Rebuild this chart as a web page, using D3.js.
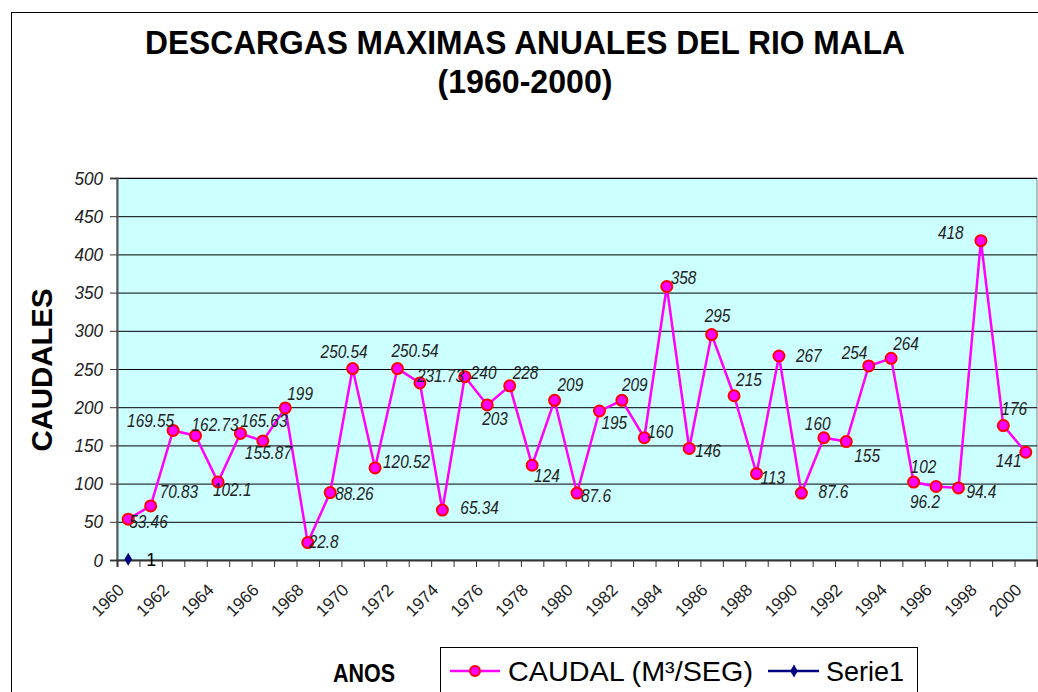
<!DOCTYPE html>
<html>
<head>
<meta charset="utf-8">
<script src="https://cdn.jsdelivr.net/npm/d3@7"></script>
<style>
  body { margin: 0; background: #fff; }
  svg { display: block; font-family: Arial, "Liberation Sans", sans-serif; }
</style>
</head>
<body>
<div id="chart"></div>
<script>
// categories (one per year)
var years = [1960, 1961, 1962, 1963, 1964, 1965, 1966, 1967, 1968, 1969,
             1970, 1971, 1972, 1973, 1974, 1975, 1976, 1977, 1978, 1979,
             1980, 1981, 1982, 1983, 1984, 1985, 1986, 1987, 1988, 1989,
             1990, 1991, 1992, 1993, 1994, 1995, 1996, 1997, 1998, 1999, 2000];

// CAUDAL (M3/SEG)
var caudal = [53.46, 70.83, 169.55, 162.73, 102.1, 165.63, 155.87, 199, 22.8, 88.26,
              250.54, 120.52, 250.54, 231.73, 65.34, 240, 203, 228, 124, 209,
              87.6, 195, 209, 160, 358, 146, 295, 215, 113, 267,
              87.6, 160, 155, 254, 264, 102, 96.2, 94.4, 418, 176, 141];

// Serie1 : a single point on the first year
var serie1 = [1];

var yTicks = [0, 50, 100, 150, 200, 250, 300, 350, 400, 450, 500];
var xTickLabels = ["1960", "1962", "1964", "1966", "1968", "1970", "1972", "1974",
                   "1976", "1978", "1980", "1982", "1984", "1986", "1988", "1990",
                   "1992", "1994", "1996", "1998", "2000"];

// data label placement (dx, dy from the marker), as the labels were dragged by hand
var labelOffsets = [[1, 3], [9, -14], [-46, -10], [-4, -11], [-5, 8], [0, -13], [-18, 12],
                    [2, -14], [1, -1], [5, 1], [-32, -17], [8, -6], [-6, -18], [-3, -7],
                    [18, -2], [6, -4], [-5, 14], [3, -13], [2, 10], [3, -16], [4, 3],
                    [2, 12], [0, -16], [3, -6], [4, -9], [6, 2], [-7, -19], [2, -16],
                    [4, 4], [17, 0], [17, -1], [-19, -14], [8, 14], [-27, -13], [2, -15],
                    [-3, -15], [-26, 15], [8, 4], [-43, -8], [-2, -17], [-30, 8]];

var width = 1038, height = 692;
var plot = {left: 117, right: 1037, top: 178, bottom: 560};
var condense = 0.88;

var svg = d3.select("#chart").append("svg")
    .attr("width", width)
    .attr("height", height);

// chart area border
svg.append("rect")
    .attr("x", 11.5).attr("y", 12.5)
    .attr("width", 1100).attr("height", 800)
    .attr("fill", "#fff")
    .attr("stroke", "#000");

var x = d3.scaleBand()
    .domain(years)
    .range([plot.left, plot.right])
    .padding(0);
var xIdx = d3.scaleLinear()
    .domain([0, years.length])
    .range([plot.left, plot.right]);
var y = d3.scaleLinear()
    .domain([0, 500])
    .range([plot.bottom, plot.top]);
var cx = function(yr) { return x(yr) + x.bandwidth() / 2; };

// plot background
svg.append("rect")
    .attr("x", plot.left).attr("y", plot.top)
    .attr("width", plot.right - plot.left)
    .attr("height", plot.bottom - plot.top)
    .attr("fill", "#ccffff")
    .attr("stroke", "#808080");

// gridlines
svg.append("g")
    .attr("transform", "translate(" + plot.left + ",0)")
    .call(d3.axisLeft(y).tickValues(yTicks.slice(1)).tickSize(-(plot.right - plot.left)).tickFormat(""))
    .call(function(g) {
      g.select(".domain").remove();
      g.selectAll("line").attr("stroke", "#000").attr("stroke-width", 1);
    });

// y axis
var yAxis = svg.append("g")
    .attr("transform", "translate(" + plot.left + ",0)")
    .call(d3.axisLeft(y).tickValues(yTicks).tickSize(7).tickPadding(14));
yAxis.attr("font-size", null).attr("font-family", null);
yAxis.select(".domain").attr("stroke", "#555").attr("stroke-width", 2);
yAxis.selectAll(".tick line").attr("stroke", "#333");
yAxis.selectAll(".tick text")
    .style("font-size", "19px")
    .style("font-style", "italic")
    .attr("fill", "#222")
    .attr("transform", "scale(0.9,1)")
    .attr("x", -14 / 0.9);

// x axis ticks on band edges
var xAxis = svg.append("g")
    .attr("transform", "translate(0," + plot.bottom + ")")
    .call(d3.axisBottom(xIdx).tickValues(d3.range(0, years.length + 1)).tickSize(7).tickFormat(""));
xAxis.select(".domain").attr("stroke", "#333").attr("stroke-width", 2);
xAxis.selectAll(".tick line").attr("stroke", "#333");

// x tick labels, every second year, rotated
svg.append("g").selectAll("text")
    .data(xTickLabels)
    .enter().append("text")
    .attr("transform", function(d) {
      return "translate(" + (cx(+d) - 3) + "," + (plot.bottom + 31) + ") rotate(-45)";
    })
    .attr("text-anchor", "end")
    .attr("font-size", 17)
    .attr("fill", "#222")
    .text(function(d) { return d; });

// CAUDAL line
var line = d3.line()
    .x(function(d, i) { return cx(years[i]); })
    .y(function(d) { return y(d); });

svg.append("path")
    .datum(caudal)
    .attr("fill", "none")
    .attr("stroke", "#ff00ff")
    .attr("stroke-width", 2.5)
    .attr("d", line);

svg.append("g").selectAll("circle")
    .data(caudal)
    .enter().append("circle")
    .attr("cx", function(d, i) { return cx(years[i]); })
    .attr("cy", function(d) { return y(d); })
    .attr("r", 5.5)
    .attr("fill", "#ff00ff")
    .attr("stroke", "#ff0000")
    .attr("stroke-width", 2);

// data labels
svg.append("g").selectAll("text")
    .data(caudal)
    .enter().append("text")
    .attr("transform", function(d, i) {
      var o = labelOffsets[i];
      return "translate(" + (cx(years[i]) + o[0]) + "," + (y(d) + o[1]) + ") scale(" + condense + ",1)";
    })
    .attr("dy", "0.36em")
    .attr("font-size", 17.5)
    .attr("font-style", "italic")
    .attr("fill", "#222")
    .text(function(d) { return d; });

// Serie1
var diamond = d3.symbol().type(d3.symbolDiamond).size(50);
svg.append("g").selectAll("path")
    .data(serie1)
    .enter().append("path")
    .attr("d", diamond)
    .attr("transform", function(d, i) {
      return "translate(" + cx(years[i]) + "," + y(d) + ")";
    })
    .attr("fill", "#000080");
svg.append("g").selectAll("text")
    .data(serie1)
    .enter().append("text")
    .attr("transform", function(d, i) {
      return "translate(" + (cx(years[i]) + 18) + "," + y(d) + ")";
    })
    .attr("dy", "0.36em")
    .attr("font-size", 18)
    .attr("fill", "#000")
    .text(function(d) { return d; });

// titles
var title = svg.append("g")
    .attr("font-weight", "bold")
    .attr("text-anchor", "middle")
    .attr("fill", "#000");
title.append("text")
    .attr("x", 525).attr("y", 54)
    .attr("font-size", 33)
    .attr("textLength", 760)
    .attr("lengthAdjust", "spacingAndGlyphs")
    .text("DESCARGAS MAXIMAS ANUALES DEL RIO MALA");
title.append("text")
    .attr("x", 525).attr("y", 93)
    .attr("font-size", 33)
    .attr("textLength", 175)
    .attr("lengthAdjust", "spacingAndGlyphs")
    .text("(1960-2000)");

svg.append("text")
    .attr("transform", "translate(52,370) rotate(-90)")
    .attr("text-anchor", "middle")
    .attr("font-weight", "bold")
    .attr("font-size", 29)
    .attr("textLength", 163)
    .attr("lengthAdjust", "spacingAndGlyphs")
    .text("CAUDALES");

svg.append("text")
    .attr("x", 364).attr("y", 682)
    .attr("text-anchor", "middle")
    .attr("font-weight", "bold")
    .attr("font-size", 25)
    .attr("textLength", 62)
    .attr("lengthAdjust", "spacingAndGlyphs")
    .text("ANOS");

// legend
var legend = svg.append("g").attr("transform", "translate(440,647)");
legend.append("rect")
    .attr("x", 0.5).attr("y", 0.5)
    .attr("width", 477).attr("height", 80)
    .attr("fill", "#fff")
    .attr("stroke", "#000");
var ly = 24;
legend.append("line")
    .attr("x1", 10).attr("x2", 60).attr("y1", ly).attr("y2", ly)
    .attr("stroke", "#ff00ff").attr("stroke-width", 2.5);
legend.append("circle")
    .attr("cx", 35).attr("cy", ly).attr("r", 5)
    .attr("fill", "#ff00ff").attr("stroke", "#ff0000").attr("stroke-width", 2);
legend.append("text")
    .attr("x", 68).attr("y", ly).attr("dy", "0.36em")
    .attr("font-size", 28)
    .attr("textLength", 245)
    .attr("lengthAdjust", "spacingAndGlyphs")
    .text("CAUDAL (M³/SEG)");
legend.append("line")
    .attr("x1", 328).attr("x2", 379).attr("y1", ly).attr("y2", ly)
    .attr("stroke", "#000080").attr("stroke-width", 2.5);
legend.append("path")
    .attr("d", diamond)
    .attr("transform", "translate(354," + ly + ")")
    .attr("fill", "#000080");
legend.append("text")
    .attr("x", 386).attr("y", ly).attr("dy", "0.36em")
    .attr("font-size", 28)
    .attr("textLength", 78)
    .attr("lengthAdjust", "spacingAndGlyphs")
    .text("Serie1");
</script>
</body>
</html>
